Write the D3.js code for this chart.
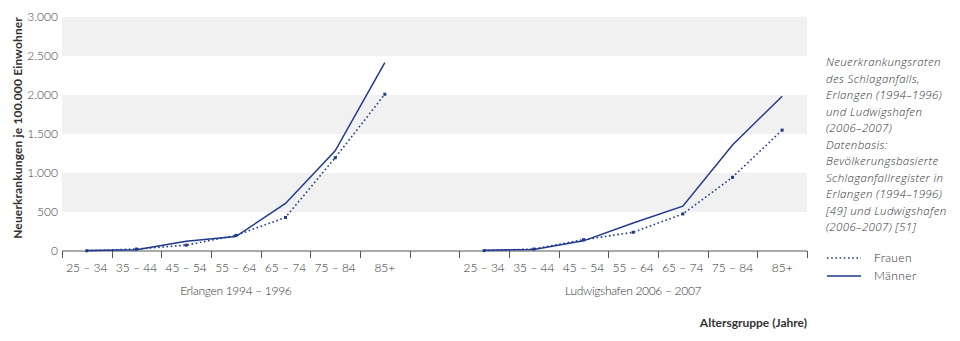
<!DOCTYPE html>
<html>
<head>
<meta charset="utf-8">
<script src="https://cdn.jsdelivr.net/npm/d3@7/dist/d3.min.js"></script>
<style>
  body { margin: 0; background: #fff; }
  svg { display: block; font-family: Lato, "Open Sans", sans-serif; }
</style>
</head>
<body>
<svg id="chart" width="960" height="341"></svg>
<script>
// Age groups shared by both registries
const ageGroups = ["25 – 34", "35 – 44", "45 – 54", "55 – 64", "65 – 74", "75 – 84", "85+"];
const panels = ["Erlangen 1994 – 1996", "Ludwigshafen 2006 – 2007"];

// Incidence per 100,000 inhabitants
const erlangenFrauen = [3, 25, 75, 200, 430, 1195, 2010];
const erlangenMaenner = [5, 15, 125, 185, 610, 1285, 2415];
const ludwigshafenFrauen = [5, 25, 145, 240, 475, 945, 1550];
const ludwigshafenMaenner = [10, 20, 130, 360, 575, 1360, 1985];

const yTicks = [0, 500, 1000, 1500, 2000, 2500, 3000];
const noteLines = [
  "Neuerkrankungsraten",
  "des Schlaganfalls,",
  "Erlangen (1994–1996)",
  "und Ludwigshafen",
  "(2006–2007)",
  "Datenbasis:",
  "Bevölkerungsbasierte",
  "Schlaganfallregister in",
  "Erlangen (1994–1996)",
  "[49] und Ludwigshafen",
  "(2006–2007) [51]"
];

const navy = "#1f3a8f";
const svg = d3.select("#chart");

// One band per age group, with an empty band separating the two registries
const slots = [
  ...ageGroups.map(a => "E|" + a),
  "gap",
  ...ageGroups.map(a => "L|" + a)
];
const x = d3.scaleBand().domain(slots).range([62, 807]).padding(0);
const y = d3.scaleLinear().domain([0, 3000]).range([251, 17]);

// Alternating background bands
const bandPairs = d3.pairs(yTicks).filter((d, i) => i % 2 === 1);
svg.append("g").selectAll("rect").data(bandPairs).join("rect")
  .attr("x", x.range()[0])
  .attr("width", x.range()[1] - x.range()[0])
  .attr("y", d => y(d[1]))
  .attr("height", d => y(d[0]) - y(d[1]))
  .attr("fill", "#f1f1f1");

// Y axis labels
const yAxis = d3.axisLeft(y).tickValues(yTicks).tickSize(0).tickPadding(4)
  .tickFormat(d => d3.format(",")(d).replace(/,/g, "."));
const gy = svg.append("g").attr("transform", "translate(62,0)").call(yAxis);
gy.select(".domain").remove();
gy.selectAll("text").attr("font-size", 12).attr("font-weight", 300).attr("fill", "#444")
  .attr("font-family", "Lato, sans-serif");

// X axis baseline and boundary ticks
const gx = svg.append("g");
gx.append("line")
  .attr("x1", x.range()[0]).attr("x2", x.range()[1])
  .attr("y1", y(0)).attr("y2", y(0))
  .attr("stroke", "#555").attr("stroke-width", 1);
const bounds = slots.map(s => x(s)).concat([x.range()[1]]);
gx.selectAll("line.tick").data(bounds).join("line")
  .attr("class", "tick")
  .attr("x1", d => Math.round(d) + 0.5).attr("x2", d => Math.round(d) + 0.5)
  .attr("y1", y(0)).attr("y2", y(0) + 7)
  .attr("stroke", "#555").attr("stroke-width", 1);

// Category labels
gx.selectAll("text.cat").data(slots.filter(s => s !== "gap")).join("text")
  .attr("class", "cat")
  .attr("x", d => x(d) + x.bandwidth() / 2)
  .attr("y", 272)
  .attr("text-anchor", "middle")
  .attr("font-size", 12).attr("font-weight", 300).attr("fill", "#333")
  .text(d => d.split("|")[1]);

// Panel labels
const panelPrefix = ["E|", "L|"];
gx.selectAll("text.panel").data(panels).join("text")
  .attr("class", "panel")
  .attr("x", (d, i) => {
    const a = x(panelPrefix[i] + ageGroups[0]);
    const b = x(panelPrefix[i] + ageGroups[ageGroups.length - 1]) + x.bandwidth();
    return (a + b) / 2;
  })
  .attr("y", 295)
  .attr("text-anchor", "middle")
  .attr("font-size", 12).attr("font-weight", 300).attr("fill", "#333")
  .attr("letter-spacing", -0.3)
  .text(d => d);

// Axis titles
svg.append("text")
  .attr("transform", "translate(22,17) rotate(-90)")
  .attr("text-anchor", "end")
  .attr("font-size", 12).attr("font-weight", 700).attr("fill", "#333")
  .attr("letter-spacing", 0.15)
  .text("Neuerkrankungen je 100.000 Einwohner");
svg.append("text")
  .attr("x", 807).attr("y", 327)
  .attr("text-anchor", "end")
  .attr("font-size", 12).attr("font-weight", 700).attr("fill", "#333")
  .text("Altersgruppe (Jahre)");

// Lines
const series = [
  { prefix: "E|", values: erlangenFrauen, dotted: true },
  { prefix: "E|", values: erlangenMaenner, dotted: false },
  { prefix: "L|", values: ludwigshafenFrauen, dotted: true },
  { prefix: "L|", values: ludwigshafenMaenner, dotted: false }
];
const line = d3.line()
  .x(d => x(d.key) + x.bandwidth() / 2)
  .y(d => y(d.value));

series.forEach(s => {
  const pts = s.values.map((v, i) => ({ key: s.prefix + ageGroups[i], value: v }));
  svg.append("path")
    .datum(pts)
    .attr("d", line)
    .attr("fill", "none")
    .attr("stroke", navy)
    .attr("stroke-width", s.dotted ? 1.6 : 1.5)
    .attr("stroke-dasharray", s.dotted ? "1.6,2.6" : null);
  if (s.dotted) {
    svg.append("g").selectAll("rect").data(pts).join("rect")
      .attr("x", d => x(d.key) + x.bandwidth() / 2 - 1.5)
      .attr("y", d => y(d.value) - 1.5)
      .attr("width", 3).attr("height", 3)
      .attr("fill", navy);
  }
});

// Note text
svg.append("g").selectAll("text").data(noteLines).join("text")
  .attr("x", 826)
  .attr("y", (d, i) => 66 + i * 16.5)
  .attr("font-family", "'Open Sans', sans-serif")
  .attr("font-size", 11.5).attr("font-style", "italic").attr("font-weight", 300)
  .attr("letter-spacing", 0.35)
  .attr("fill", "#333")
  .text(d => d);

// Legend
const legend = [
  { label: "Frauen", dotted: true, y: 258 },
  { label: "Männer", dotted: false, y: 276 }
];
const lg = svg.append("g");
legend.forEach(l => {
  lg.append("line")
    .attr("x1", 827).attr("x2", 861)
    .attr("y1", l.y).attr("y2", l.y)
    .attr("stroke", navy)
    .attr("stroke-width", l.dotted ? 1.6 : 1.5)
    .attr("stroke-dasharray", l.dotted ? "1.6,2.6" : null);
  lg.append("text")
    .attr("x", 874).attr("y", l.y + 4)
    .attr("font-size", 12).attr("font-weight", 300).attr("fill", "#333")
    .attr("letter-spacing", 0.4)
    .text(l.label);
});
</script>
</body>
</html>
